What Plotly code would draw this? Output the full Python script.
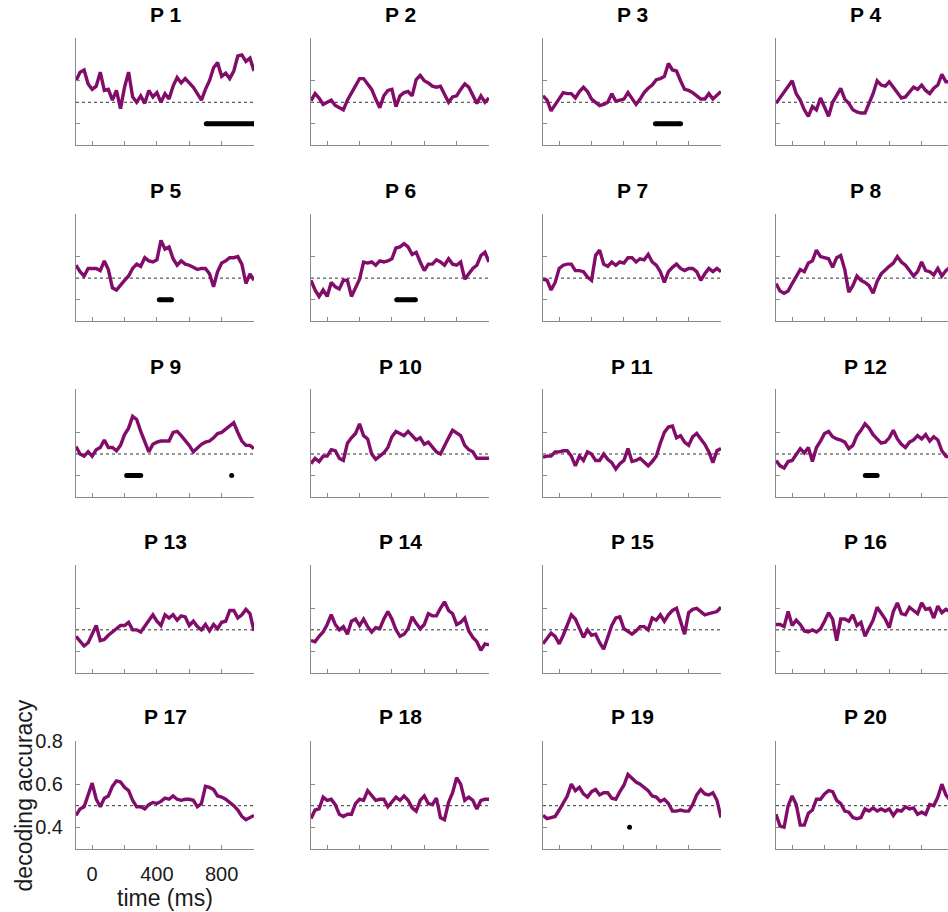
import plotly.graph_objects as go

# ---------------- data ----------------
TIME = [-100, -75, -50, -25, 0, 25, 50, 75, 100, 125, 150, 175, 200, 225, 250,
        275, 300, 325, 350, 375, 400, 425, 450, 475, 500, 525, 550, 575, 600,
        625, 650, 675, 700, 725, 750, 775, 800, 825, 850, 875, 900, 925, 950,
        975, 1000]

P1 = [0.60, 0.64, 0.65, 0.585, 0.56, 0.575, 0.64, 0.555, 0.56, 0.51, 0.555, 0.47, 0.57, 0.64, 0.525,
      0.50, 0.53, 0.495, 0.555, 0.525, 0.545, 0.50, 0.54, 0.515, 0.575, 0.615, 0.59, 0.61, 0.59,
      0.57, 0.54, 0.51, 0.56, 0.60, 0.66, 0.685, 0.62, 0.635, 0.61, 0.645, 0.715, 0.72, 0.69,
      0.705, 0.645]
P2 = [0.508, 0.54, 0.52, 0.49, 0.50, 0.51, 0.485, 0.475, 0.465, 0.51, 0.545, 0.58, 0.61, 0.61, 0.585,
      0.56, 0.515, 0.475, 0.53, 0.555, 0.56, 0.48, 0.53, 0.545, 0.55, 0.53, 0.605, 0.625, 0.60,
      0.59, 0.575, 0.57, 0.575, 0.54, 0.50, 0.525, 0.53, 0.56, 0.585, 0.57, 0.53, 0.495, 0.53,
      0.50, 0.52]
P3 = [0.53, 0.51, 0.46, 0.49, 0.515, 0.545, 0.54, 0.54, 0.52, 0.55, 0.57, 0.55, 0.515, 0.50, 0.485,
      0.49, 0.50, 0.54, 0.505, 0.51, 0.515, 0.545, 0.515, 0.49, 0.515, 0.545, 0.565, 0.58, 0.605,
      0.61, 0.62, 0.68, 0.65, 0.645, 0.60, 0.56, 0.555, 0.545, 0.53, 0.515, 0.515, 0.54, 0.515,
      0.53, 0.55]
P4 = [0.495, 0.52, 0.55, 0.575, 0.60, 0.54, 0.51, 0.465, 0.435, 0.48, 0.465, 0.52, 0.475, 0.435, 0.50,
      0.535, 0.565, 0.515, 0.495, 0.465, 0.455, 0.45, 0.45, 0.495, 0.54, 0.60, 0.58, 0.575, 0.595,
      0.57, 0.545, 0.52, 0.525, 0.55, 0.57, 0.56, 0.58, 0.555, 0.54, 0.565, 0.58, 0.63, 0.595,
      0.595, 0.60]
P5 = [0.56, 0.53, 0.51, 0.545, 0.545, 0.545, 0.535, 0.58, 0.54, 0.455, 0.445, 0.47, 0.49, 0.51, 0.545,
      0.565, 0.555, 0.595, 0.58, 0.575, 0.585, 0.675, 0.635, 0.645, 0.59, 0.56, 0.58, 0.565, 0.56,
      0.55, 0.54, 0.545, 0.545, 0.52, 0.46, 0.53, 0.57, 0.58, 0.595, 0.595, 0.60, 0.565, 0.475,
      0.52, 0.49]
P6 = [0.49, 0.445, 0.415, 0.445, 0.415, 0.48, 0.46, 0.45, 0.49, 0.49, 0.415, 0.455, 0.495, 0.575, 0.57,
      0.575, 0.56, 0.58, 0.575, 0.58, 0.59, 0.64, 0.645, 0.66, 0.645, 0.61, 0.62, 0.575, 0.535,
      0.565, 0.565, 0.585, 0.575, 0.56, 0.59, 0.565, 0.56, 0.575, 0.495, 0.52, 0.545, 0.56, 0.605,
      0.62, 0.575]
P7 = [0.495, 0.49, 0.445, 0.48, 0.545, 0.56, 0.565, 0.565, 0.535, 0.535, 0.53, 0.505, 0.49, 0.605, 0.63,
      0.565, 0.555, 0.575, 0.56, 0.575, 0.57, 0.595, 0.595, 0.575, 0.59, 0.585, 0.61, 0.575, 0.56,
      0.53, 0.48, 0.53, 0.55, 0.565, 0.545, 0.535, 0.545, 0.545, 0.53, 0.49, 0.52, 0.545, 0.53,
      0.545, 0.53]
P8 = [0.475, 0.44, 0.43, 0.44, 0.475, 0.51, 0.54, 0.53, 0.57, 0.58, 0.63, 0.60, 0.595, 0.59, 0.55,
      0.595, 0.605, 0.54, 0.435, 0.465, 0.51, 0.49, 0.48, 0.465, 0.43, 0.485, 0.52, 0.54, 0.555,
      0.57, 0.60, 0.575, 0.56, 0.535, 0.51, 0.53, 0.575, 0.535, 0.53, 0.515, 0.545, 0.51, 0.535,
      0.55, 0.55]
P9 = [0.535, 0.50, 0.49, 0.51, 0.49, 0.52, 0.53, 0.565, 0.53, 0.53, 0.515, 0.54, 0.59, 0.62, 0.675,
      0.66, 0.605, 0.56, 0.51, 0.545, 0.555, 0.56, 0.56, 0.56, 0.60, 0.605, 0.585, 0.565, 0.54,
      0.51, 0.53, 0.545, 0.555, 0.56, 0.575, 0.595, 0.60, 0.615, 0.635, 0.645, 0.60, 0.56, 0.54,
      0.54, 0.525]
P10 = [0.455, 0.48, 0.465, 0.49, 0.49, 0.52, 0.515, 0.48, 0.47, 0.55, 0.575, 0.595, 0.64, 0.585, 0.57,
       0.50, 0.475, 0.49, 0.505, 0.53, 0.58, 0.605, 0.595, 0.585, 0.605, 0.585, 0.565, 0.575, 0.545,
       0.555, 0.53, 0.51, 0.50, 0.54, 0.575, 0.61, 0.595, 0.585, 0.54, 0.52, 0.51, 0.48, 0.48,
       0.48, 0.48]
P11 = [0.485, 0.49, 0.49, 0.51, 0.51, 0.515, 0.515, 0.49, 0.445, 0.49, 0.47, 0.51, 0.50, 0.47, 0.47,
       0.50, 0.475, 0.46, 0.43, 0.455, 0.47, 0.525, 0.465, 0.47, 0.48, 0.46, 0.445, 0.465, 0.49,
       0.55, 0.60, 0.625, 0.63, 0.575, 0.585, 0.555, 0.54, 0.58, 0.595, 0.57, 0.545, 0.51, 0.46,
       0.515, 0.525]
P12 = [0.47, 0.445, 0.435, 0.465, 0.47, 0.495, 0.525, 0.505, 0.53, 0.465, 0.53, 0.56, 0.595, 0.605, 0.58,
       0.57, 0.565, 0.555, 0.525, 0.54, 0.585, 0.61, 0.64, 0.62, 0.59, 0.57, 0.55, 0.555, 0.575,
       0.61, 0.57, 0.545, 0.53, 0.555, 0.565, 0.585, 0.57, 0.59, 0.56, 0.58, 0.565, 0.515, 0.49,
       0.485, 0.485]
P13 = [0.47, 0.445, 0.425, 0.44, 0.48, 0.52, 0.45, 0.455, 0.475, 0.49, 0.505, 0.52, 0.52, 0.535, 0.50,
       0.50, 0.49, 0.515, 0.54, 0.57, 0.54, 0.52, 0.57, 0.555, 0.57, 0.545, 0.565, 0.56, 0.52,
       0.54, 0.515, 0.50, 0.525, 0.495, 0.525, 0.505, 0.535, 0.54, 0.59, 0.59, 0.555, 0.57, 0.595,
       0.575, 0.495]
P14 = [0.45, 0.445, 0.47, 0.49, 0.525, 0.57, 0.525, 0.50, 0.515, 0.48, 0.54, 0.55, 0.52, 0.55, 0.515,
       0.49, 0.51, 0.505, 0.55, 0.585, 0.55, 0.50, 0.47, 0.48, 0.505, 0.56, 0.53, 0.505, 0.525,
       0.575, 0.565, 0.565, 0.60, 0.63, 0.59, 0.575, 0.525, 0.535, 0.555, 0.495, 0.465, 0.445, 0.405,
       0.435, 0.43]
P15 = [0.435, 0.46, 0.485, 0.47, 0.435, 0.475, 0.52, 0.57, 0.55, 0.505, 0.465, 0.50, 0.475, 0.48, 0.44,
       0.41, 0.47, 0.52, 0.555, 0.56, 0.505, 0.49, 0.48, 0.495, 0.515, 0.515, 0.50, 0.555, 0.545,
       0.57, 0.54, 0.57, 0.59, 0.60, 0.545, 0.48, 0.58, 0.595, 0.60, 0.585, 0.57, 0.575, 0.58,
       0.585, 0.605]
P16 = [0.525, 0.525, 0.515, 0.585, 0.52, 0.545, 0.525, 0.495, 0.49, 0.50, 0.49, 0.505, 0.54, 0.58, 0.55,
       0.45, 0.55, 0.55, 0.54, 0.57, 0.52, 0.535, 0.47, 0.51, 0.545, 0.605, 0.58, 0.55, 0.51,
       0.585, 0.625, 0.575, 0.57, 0.605, 0.59, 0.575, 0.625, 0.595, 0.60, 0.555, 0.61, 0.58, 0.595,
       0.585, 0.585]
P17 = [0.455, 0.485, 0.495, 0.555, 0.605, 0.53, 0.495, 0.535, 0.545, 0.59, 0.615, 0.61, 0.585, 0.57, 0.525,
       0.495, 0.495, 0.485, 0.505, 0.515, 0.51, 0.52, 0.535, 0.53, 0.545, 0.53, 0.525, 0.53, 0.53,
       0.525, 0.495, 0.51, 0.59, 0.585, 0.575, 0.545, 0.54, 0.53, 0.515, 0.50, 0.48, 0.45, 0.435,
       0.445, 0.455]
P18 = [0.44, 0.48, 0.485, 0.54, 0.525, 0.53, 0.505, 0.46, 0.45, 0.46, 0.46, 0.51, 0.53, 0.525, 0.57,
       0.545, 0.525, 0.53, 0.53, 0.495, 0.515, 0.54, 0.525, 0.545, 0.525, 0.49, 0.475, 0.525, 0.545,
       0.51, 0.505, 0.535, 0.445, 0.435, 0.515, 0.56, 0.63, 0.60, 0.525, 0.54, 0.525, 0.485, 0.525,
       0.53, 0.53]
P19 = [0.455, 0.44, 0.445, 0.45, 0.48, 0.515, 0.545, 0.60, 0.57, 0.585, 0.555, 0.54, 0.565, 0.575, 0.55,
       0.56, 0.56, 0.535, 0.53, 0.565, 0.595, 0.645, 0.625, 0.61, 0.60, 0.585, 0.57, 0.545, 0.54,
       0.52, 0.53, 0.51, 0.475, 0.475, 0.48, 0.475, 0.475, 0.505, 0.55, 0.575, 0.555, 0.55, 0.56,
       0.525, 0.445]
P20 = [0.46, 0.405, 0.40, 0.50, 0.545, 0.505, 0.41, 0.41, 0.465, 0.48, 0.53, 0.53, 0.555, 0.57, 0.565,
       0.525, 0.51, 0.475, 0.47, 0.445, 0.44, 0.445, 0.485, 0.475, 0.49, 0.475, 0.485, 0.475, 0.485,
       0.455, 0.48, 0.475, 0.495, 0.485, 0.49, 0.46, 0.47, 0.46, 0.505, 0.50, 0.54, 0.60, 0.55,
       0.525, 0.525]

SERIES = [P1, P2, P3, P4, P5, P6, P7, P8, P9, P10,
          P11, P12, P13, P14, P15, P16, P17, P18, P19, P20]
TITLES = ["P %d" % (i + 1) for i in range(20)]

# significant intervals (ms) per panel, drawn at accuracy 0.4
SIG = {1: [(705, 1000)], 3: [(595, 750)], 5: [(415, 490)], 6: [(430, 545)],
       9: [(213, 300), (862, 862)], 12: [(452, 525)], 19: [(435, 435)]}

CHANCE = 0.5
SIG_LEVEL = 0.4
X_RANGE = [-100, 1000]
Y_RANGE = [0.3, 0.8]
X_TICKS = [0, 200, 400, 600, 800, 1000]
X_TICK_TEXT = ["0", "", "400", "", "800", ""]
Y_TICKS = [0.4, 0.6, 0.8]
Y_TICK_TEXT = ["0.4", "0.6", "0.8"]

# ---------------- layout geometry (pixels) ----------------
W, H = 948, 912
COL_LEFT = [76, 311, 543, 776]
ROW_TOP = [27, 205, 383, 561, 739]
AX_W, AX_H = 178, 109
TITLE_GAP = [23, 23, 23, 24, 25]

LINE_COLOR = "#820c6a"
AXIS_COLOR = "#8a8a8a"
TEXT_COLOR = "#1a1a1a"
FONT = "Liberation Sans, Arial, sans-serif"

fig = go.Figure()
layout = dict(width=W, height=H, margin=dict(l=0, r=0, t=0, b=0),
              paper_bgcolor="white", plot_bgcolor="white", showlegend=False,
              font=dict(family=FONT, color=TEXT_COLOR))
annotations = []

for k, vals in enumerate(SERIES):
    r, c = divmod(k, 4)
    idx = "" if k == 0 else str(k + 1)
    xa, ya = "x" + idx, "y" + idx
    left = COL_LEFT[c]
    right = min(left + AX_W, W)
    xmax = X_RANGE[0] + (right - left) / AX_W * (X_RANGE[1] - X_RANGE[0])
    top = ROW_TOP[r]
    bottom = top + AX_H
    labelled = (k == 16)

    layout["xaxis" + idx] = dict(
        domain=[left / W, right / W], range=[X_RANGE[0], xmax], anchor=ya,
        showline=True, linecolor=AXIS_COLOR, linewidth=1, mirror=False,
        showgrid=False, zeroline=False, ticks="inside", ticklen=4,
        tickcolor=AXIS_COLOR, tickmode="array", tickvals=X_TICKS,
        ticktext=X_TICK_TEXT, showticklabels=labelled,
        tickfont=dict(size=20, color=TEXT_COLOR), ticklabelstandoff=7)
    layout["yaxis" + idx] = dict(
        domain=[1 - bottom / H, 1 - top / H], range=Y_RANGE, anchor=xa,
        showline=True, linecolor=AXIS_COLOR, linewidth=1, mirror=False,
        showgrid=False, zeroline=False, ticks="inside", ticklen=4,
        tickcolor=AXIS_COLOR, tickmode="array", tickvals=Y_TICKS,
        ticktext=Y_TICK_TEXT, showticklabels=labelled,
        tickfont=dict(size=20, color=TEXT_COLOR), ticklabelstandoff=8)

    # chance level (dashed)
    fig.add_trace(go.Scatter(x=X_RANGE, y=[CHANCE, CHANCE], mode="lines",
                             line=dict(color="#333333", width=1, dash="3px,3px"),
                             xaxis=xa, yaxis=ya, hoverinfo="skip"))
    # decoding accuracy
    fig.add_trace(go.Scatter(x=TIME, y=vals, mode="lines",
                             line=dict(color=LINE_COLOR, width=3.4),
                             xaxis=xa, yaxis=ya))
    # significance
    for (s0, s1) in SIG.get(k + 1, []):
        xs = [s0] if s0 == s1 else [s0, s1]
        fig.add_trace(go.Scatter(x=xs, y=[SIG_LEVEL] * len(xs),
                                 mode="lines+markers",
                                 line=dict(color="black", width=5),
                                 marker=dict(color="black", size=5),
                                 xaxis=xa, yaxis=ya, cliponaxis=True))

    annotations.append(dict(text="<b>%s</b>" % TITLES[k], xref="paper", yref="paper",
                            x=(left + AX_W / 2) / W, y=1 - (top - TITLE_GAP[r]) / H,
                            xanchor="center", yanchor="middle", showarrow=False,
                            font=dict(size=21, color="black", family=FONT)))

annotations.append(dict(text="decoding accuracy", xref="paper", yref="paper",
                        x=24 / W, y=1 - 794 / H, textangle=-90,
                        xanchor="center", yanchor="middle", showarrow=False,
                        font=dict(size=23, color=TEXT_COLOR, family=FONT)))
annotations.append(dict(text="time (ms)", xref="paper", yref="paper",
                        x=(COL_LEFT[0] + AX_W / 2) / W, y=1 - 898 / H,
                        xanchor="center", yanchor="middle", showarrow=False,
                        font=dict(size=23, color=TEXT_COLOR, family=FONT)))
layout["annotations"] = annotations
fig.update_layout(**layout)
fig.write_html("out.html")
